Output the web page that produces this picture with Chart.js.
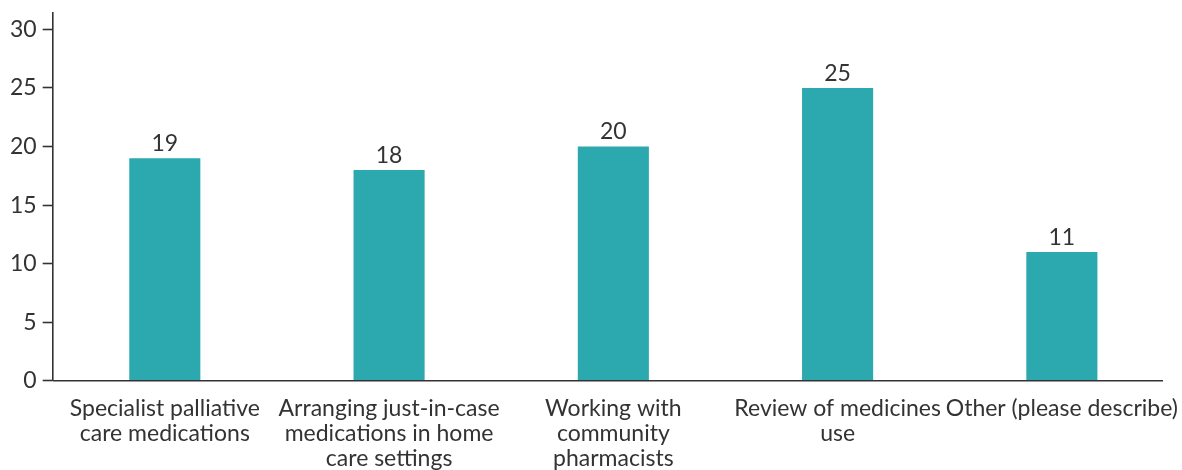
<!DOCTYPE html>
<html>
<head>
<meta charset="utf-8">
<script src="https://cdn.jsdelivr.net/npm/chart.js@4/dist/chart.umd.min.js"></script>
<style>
  html, body { margin: 0; padding: 0; background: #fff; }
  #wrap { width: 1182px; height: 470px; }
</style>
</head>
<body>
<div id="wrap"><canvas id="chart" width="1182" height="470"></canvas></div>
<script>
const categories = [
  ['Specialist palliative', 'care medications'],
  ['Arranging just-in-case', 'medications in home', 'care settings'],
  ['Working with', 'community', 'pharmacists'],
  ['Review of medicines', 'use'],
  ['Other (please describe)']
];
const counts = [19, 18, 20, 25, 11];
const yTicks = [0, 5, 10, 15, 20, 25, 30];

const TEXT = '#333333';
const BAR = '#2BA9AF';
const FONT_SIZE = 23;

// numbers above each bar
const valueLabels = {
  id: 'valueLabels',
  afterDatasetsDraw(chart) {
    const ctx = chart.ctx;
    const meta = chart.getDatasetMeta(0);
    ctx.save();
    ctx.font = FONT_SIZE + 'px Lato';
    ctx.fillStyle = TEXT;
    ctx.textAlign = 'center';
    ctx.textBaseline = 'bottom';
    meta.data.forEach((bar, i) => {
      ctx.fillText(String(counts[i]), bar.x, bar.y - 3);
    });
    ctx.restore();
  }
};

// baseline stops a little short of the plot's right edge
const baseLine = {
  id: 'baseLine',
  afterDatasetsDraw(chart) {
    const ctx = chart.ctx;
    const y = chart.scales.y.getPixelForValue(0);
    const area = chart.chartArea;
    ctx.save();
    ctx.strokeStyle = TEXT;
    ctx.lineWidth = 1.6;
    ctx.beginPath();
    ctx.moveTo(area.left, y);
    ctx.lineTo(area.right - 11, y);
    ctx.stroke();
    ctx.restore();
  }
};

new Chart(document.getElementById('chart'), {
  type: 'bar',
  data: {
    labels: categories,
    datasets: [{
      data: counts,
      backgroundColor: BAR,
      borderWidth: 0,
      categoryPercentage: 1,
      barPercentage: 0.317
    }]
  },
  options: {
    responsive: false,
    animation: false,
    layout: { padding: { top: 13, right: 8, bottom: -8, left: 4 } },
    plugins: {
      legend: { display: false },
      tooltip: { enabled: false }
    },
    scales: {
      x: {
        afterFit(scale) {
          scale.paddingLeft = 0;
          scale.paddingRight = 0;
        },
        grid: { display: false },
        border: { display: false },
        ticks: {
          color: TEXT,
          font: { family: 'Lato', size: FONT_SIZE, lineHeight: 1.09 },
          padding: 7,
          maxRotation: 0,
          autoSkip: false
        }
      },
      y: {
        min: 0,
        max: 31.4,
        afterBuildTicks(scale) {
          scale.ticks = yTicks.map(v => ({ value: v }));
        },
        afterFit(scale) {
          scale.paddingTop = 0;
          scale.paddingBottom = 0;
        },
        grid: {
          drawOnChartArea: false,
          drawTicks: true,
          tickLength: 10,
          tickWidth: 1.6,
          color: TEXT
        },
        border: { display: true, color: TEXT, width: 1.6 },
        ticks: {
          color: TEXT,
          font: { family: 'Lato', size: FONT_SIZE },
          padding: 6
        }
      }
    }
  },
  plugins: [valueLabels, baseLine]
});
</script>
</body>
</html>
